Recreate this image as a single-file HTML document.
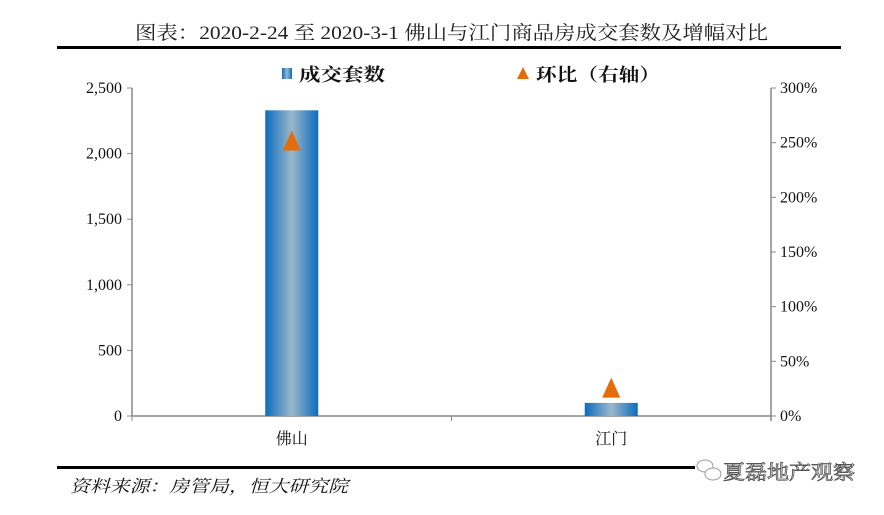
<!DOCTYPE html>
<html><head><meta charset="utf-8"><style>
body{margin:0;background:#fff;}
svg text{font-family:"Liberation Serif","Noto Serif CJK SC",serif;}
</style></head><body>
<svg id="c" width="884" height="510" xmlns="http://www.w3.org/2000/svg">
<defs><linearGradient id="g" x1="0" x2="1" y1="0" y2="0">
<stop offset="0" stop-color="#0c6cbf"/><stop offset="0.5" stop-color="#9ab7c9"/><stop offset="1" stop-color="#0c6cbf"/></linearGradient></defs>
<text x="135" y="39" textLength="633" lengthAdjust="spacingAndGlyphs" font-size="19" fill="#222">图表：2020-2-24 至 2020-3-1 佛山与江门商品房成交套数及增幅对比</text>
<rect x="57" y="46" width="784" height="3" fill="#000"/>
<g>
<rect x="282" y="68" width="10" height="11" fill="url(#g)"/>
<text x="299" y="81" textLength="86" lengthAdjust="spacingAndGlyphs" font-size="18" font-weight="bold" fill="#111">成交套数</text>
<polygon points="523,67 517,79 529,79" fill="#e46c0a"/>
<text x="536" y="81" textLength="124" lengthAdjust="spacingAndGlyphs" font-size="18" font-weight="bold" fill="#111">环比（右轴）</text>
</g>
<g id="plot"></g>
<rect x="57" y="466" width="784" height="3" fill="#000"/>
<text x="70" y="492" textLength="278" lengthAdjust="spacingAndGlyphs" font-size="17" font-style="italic" fill="#111">资料来源：房管局，恒大研究院</text>
<rect x="695" y="455" width="170" height="40" fill="#fff"/>
<ellipse cx="705" cy="466" rx="8" ry="6" fill="none" stroke="#999"/>
<ellipse cx="713" cy="474" rx="8" ry="6" fill="#fff" stroke="#999"/>
<text x="723" y="479" textLength="132" lengthAdjust="spacingAndGlyphs" font-size="20" fill="#fff" stroke="#555" stroke-width="0.8" font-family="Liberation Sans,Noto Sans CJK SC,sans-serif">夏磊地产观察</text>
</svg>
<script>
const categories=["佛山","江门"];
const counts=[2330,100];
const ratios=[252,26];
const leftTicks=[0,500,1000,1500,2000,2500];
const rightTicks=[0,50,100,150,200,250,300];
const NS="http://www.w3.org/2000/svg";
const g=document.getElementById('plot');
const X0=132,X1=771,Y0=416,Y1=88;
const yL=v=>Y0-(v/2500)*(Y0-Y1);
const yR=v=>Y0-(v/300)*(Y0-Y1);
const band=(X1-X0)/categories.length;
const xC=i=>X0+band*(i+0.5);
function mk(t,a){const e=document.createElementNS(NS,t);for(const k in a)e.setAttribute(k,a[k]);g.appendChild(e);return e;}
let e;
e=mk('line',{x1:X0,y1:Y1,x2:X0,y2:Y0,stroke:'#888','stroke-width':1.5});


e=mk('line',{x1:X1,y1:Y1,x2:X1,y2:Y0+5,stroke:'#888','stroke-width':1.5});


e=mk('line',{x1:X0,y1:Y0,x2:X1,y2:Y0,stroke:'#888','stroke-width':1.5});


for(let i=0;i<=categories.length;i++){e=mk('line',{x1:X0+band*i,y1:Y0,x2:X0+band*i,y2:Y0+5,stroke:'#888'});

}
leftTicks.forEach(v=>{e=mk('line',{x1:X0-5,y1:yL(v),x2:X0,y2:yL(v),stroke:'#888'});


e=mk('text',{x:X0-10,y:yL(v)+5,'text-anchor':'end','font-size':16,fill:'#111'});e.textContent=v.toLocaleString('en-US');

});
rightTicks.forEach(v=>{e=mk('line',{x1:X1,y1:yR(v),x2:X1+5,y2:yR(v),stroke:'#888'});


e=mk('text',{x:X1+9,y:yR(v)+5,'font-size':16,fill:'#111'});e.textContent=v+'%';

});
categories.forEach((c,i)=>{
const bw=53,x=xC(i)-bw/2;
e=mk('rect',{x:x,y:yL(counts[i]),width:bw,height:Y0-yL(counts[i]),fill:'url(#g)'});


const cy=yR(ratios[i]);
e=mk('polygon',{points:`${xC(i)},${cy-10} ${xC(i)-9},${cy+10} ${xC(i)+9},${cy+10}`,fill:'#e46c0a'});


e=mk('text',{x:xC(i),y:Y0+28,'text-anchor':'middle','font-size':16,fill:'#111'});e.textContent=c;


});
</script>
</body></html>
